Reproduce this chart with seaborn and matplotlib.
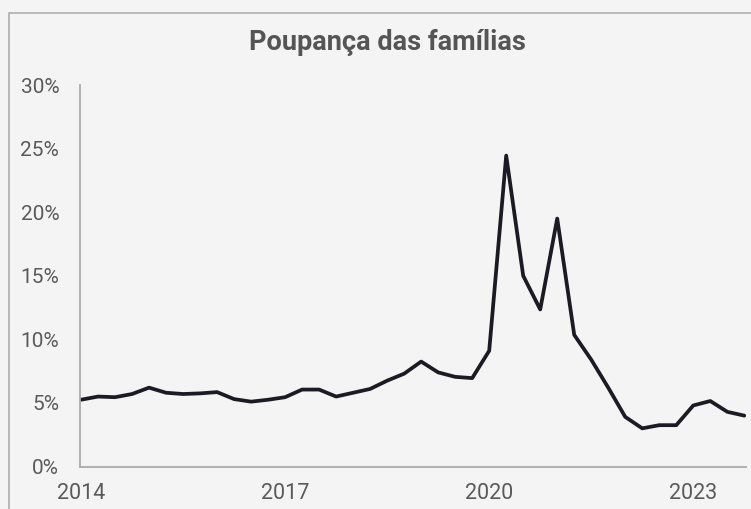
import matplotlib
matplotlib.use("Agg")
import matplotlib.pyplot as plt
import seaborn as sns
import pandas as pd
from matplotlib.patches import Rectangle
from matplotlib.ticker import FuncFormatter

# Data: quarterly household saving rate (%), 2014Q1 - 2023Q4
quarters = [f"{y}T{q}" for y in range(2014, 2024) for q in range(1, 5)]
savings = [5.25, 5.5, 5.45, 5.7, 6.2, 5.8, 5.7, 5.75, 5.85, 5.3,
           5.1, 5.25, 5.45, 6.05, 6.05, 5.5, 5.8, 6.1, 6.75, 7.3,
           8.25, 7.4, 7.05, 6.95, 9.1, 24.45, 15.0, 12.35, 19.5, 10.35,
           8.4, 6.2, 3.9, 3.0, 3.25, 3.25, 4.8, 5.15, 4.3, 4.0]
tick_labels = ["2014", "2017", "2020", "2023"]
tick_index = [0, 12, 24, 36]
yticks = [0, 5, 10, 15, 20, 25, 30]
title = "Poupança das famílias"

df = pd.DataFrame({"idx": range(len(quarters)), "quarter": quarters, "value": savings})

sns.set_theme(style="white")
plt.rcParams["font.family"] = ["Roboto", "DejaVu Sans"]

bg = "#f4f4f4"
txt = "#5a5a5a"
fig = plt.figure(figsize=(7.51, 5.09), dpi=100, facecolor=bg)
ax = fig.add_axes([80 / 751, 1 - 466.5 / 509, 666 / 751, (466.5 - 85) / 509])
ax.set_facecolor(bg)

sns.lineplot(data=df, x="idx", y="value", ax=ax, color="#1c1b24", linewidth=2.7)

ax.set_ylim(0, 30)
ax.set_xlim(-0.06, 39.1)
ax.set_yticks(yticks)
ax.yaxis.set_major_formatter(FuncFormatter(lambda v, p: f"{v:.0f}%"))
ax.set_xticks(tick_index)
ax.set_xticklabels(tick_labels)
ax.set_xlabel("")
ax.set_ylabel("")
ax.tick_params(axis="y", length=0, pad=15, labelsize=15, labelcolor=txt)
ax.tick_params(axis="x", length=0, pad=12, labelsize=15.5, labelcolor=txt)

for s in ["top", "right"]:
    ax.spines[s].set_visible(False)
for s in ["left", "bottom"]:
    ax.spines[s].set_color("#ababab")
    ax.spines[s].set_linewidth(1.3)

fig.text(387 / 751, 1 - 42 / 509, title, ha="center", va="center",
         fontsize=19.5, fontweight="bold", color="#555555")

fig.add_artist(Rectangle((8.5 / 751, -0.1), 1.2, 1 - 13.5 / 509 + 0.1,
                         transform=fig.transFigure, fill=False,
                         edgecolor="#b4b4b4", linewidth=1.3))

fig.savefig("out.png", dpi=100, facecolor=bg)
